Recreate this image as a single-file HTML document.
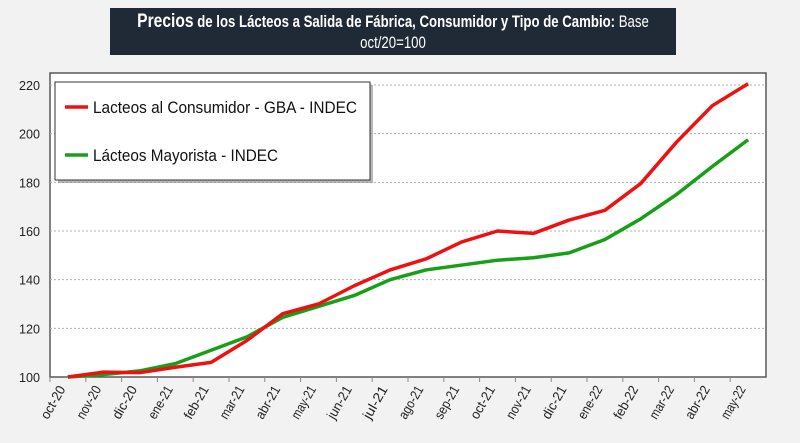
<!DOCTYPE html>
<html><head><meta charset="utf-8"><style>
body{margin:0;background:#f2f2f2;width:800px;height:443px;overflow:hidden;font-family:"Liberation Sans",sans-serif}
#title{position:absolute;left:110px;top:8px;width:566px;height:47px;background:#1f2a36;color:#fff;font-size:16.5px;line-height:21px;white-space:nowrap}
#title div{position:absolute;left:50%;transform:translateX(-50%) scaleX(0.8);transform-origin:center}
</style></head><body>
<div id="title"><div style="top:3px"><b style="font-size:19.5px">Precios</b> <b>de los Lácteos a Salida de Fábrica, Consumidor y Tipo de Cambio:</b> Base</div><div style="top:25px">oct/20=100</div></div>
<svg id="c" width="800" height="443" style="position:absolute;left:0;top:0"></svg>
<script>
const categories=["oct-20","nov-20","dic-20","ene-21","feb-21","mar-21","abr-21","may-21","jun-21","jul-21","ago-21","sep-21","oct-21","nov-21","dic-21","ene-22","feb-22","mar-22","abr-22","may-22"];
const consumidor=[100,102,101.8,104,106,115,126,130,137.5,144,148.5,155.5,160,159,164.5,168.5,179.5,196.5,211.5,220.5];
const mayorista=[100,101,102.5,105.5,111,116.5,124.5,129,133.5,140,144,146,148,149,151,156.5,165,175,186.5,197.5];
const yTicks=[100,120,140,160,180,200,220];
const L=50,R=766,T=73,B=377;
const NS="http://www.w3.org/2000/svg",svg=document.getElementById('c');
const bw=(R-L)/categories.length;
const x=i=>L+bw*(i+0.5);
const y=v=>377-(v-100)*(292/120);
function mk(t,a,p){const e=document.createElementNS(NS,t);for(const k in a)e.setAttribute(k,a[k]);(p||svg).appendChild(e);return e;}
const plot=mk('rect',{x:L,y:T,width:R-L,height:B-T,fill:'#fff',stroke:'#595959','stroke-width':1.5});


yTicks.forEach(v=>{
 if(v>100){const g=mk('line',{x1:L,x2:R,y1:y(v),y2:y(v),stroke:'#b0b0b0','stroke-dasharray':'2,2'});
 
 }
 const t=mk('text',{x:L-10,y:y(v)+5,'text-anchor':'end','font-size':13,fill:'#222',textLength:21,lengthAdjust:'spacingAndGlyphs'});t.textContent=v;
 
 
});
categories.forEach((c,i)=>{
 mk('line',{x1:L+bw*i,x2:L+bw*i,y1:B,y2:B+5,stroke:'#888'});
 const t=mk('text',{transform:`translate(${x(i)-2},${B+12}) rotate(-60)`,'text-anchor':'end','font-size':13.5,fill:'#222',textLength:36,lengthAdjust:'spacingAndGlyphs'});t.textContent=c;
 
 
});
function line(d,col,name){const p=mk('polyline',{points:d.map((v,i)=>x(i)+','+y(v)).join(' '),fill:'none',stroke:col,'stroke-width':3.5,'stroke-linejoin':'round'});
 
 }
line(mayorista,'#17a017','series-mayorista');
line(consumidor,'#ee1111','series-consumidor');
const lg=mk('g',{});


mk('rect',{x:58,y:85,width:315,height:98,fill:'#888',opacity:0.6},lg);
mk('rect',{x:55,y:82,width:315,height:98,fill:'#fff',stroke:'#333','stroke-width':1},lg);
[['Lacteos al Consumidor - GBA - INDEC','#ee1111',107,264],['Lácteos Mayorista - INDEC','#17a017',155,185]].forEach(([n,c,yy,w])=>{
 mk('line',{x1:65,x2:88,y1:yy,y2:yy,stroke:c,'stroke-width':3.5},lg);
 const t=mk('text',{x:93,y:yy+6,'font-size':17,fill:'#111',textLength:w,lengthAdjust:'spacingAndGlyphs'},lg);t.textContent=n;
 
 
});
</script>
</body></html>
